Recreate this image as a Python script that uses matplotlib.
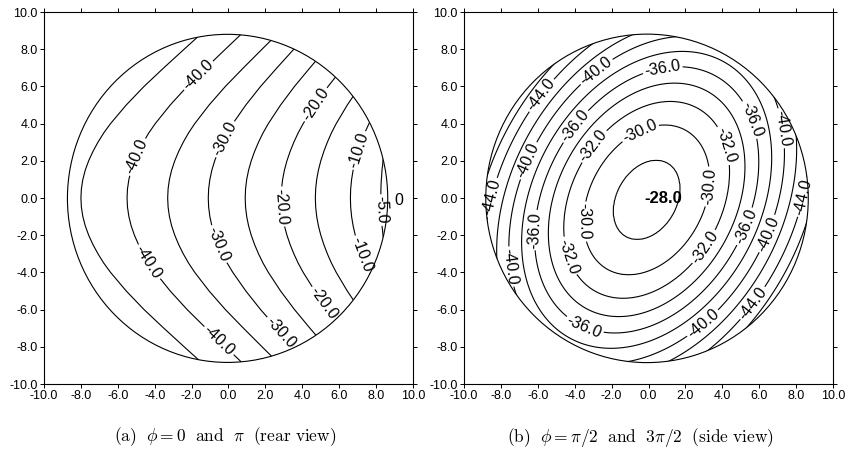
import numpy as np
import matplotlib
matplotlib.use("Agg")
import matplotlib.pyplot as plt
from matplotlib.patches import Ellipse
from matplotlib.ticker import FormatStrFormatter

plt.rcParams['font.family'] = ['Liberation Sans', 'DejaVu Sans']
plt.rcParams['mathtext.fontset'] = 'cm'
plt.rcParams['contour.negative_linestyle'] = 'solid'

# ---------------- panel (a): phi = 0 and pi (rear view) ----------------
# contour levels, their x-position on the y=0 line, and how strongly each bends
levels_a = [-50, -45, -40, -35, -30, -25, -20, -15, -10, -5, 0, 5]
x0_a = [-10.6, -8.0, -5.5, -3.3, -1.1, 0.9, 2.85, 4.7, 6.6, 8.25, 9.2, 10.2]
bend_a = [1.1, 1.05, 1.0, 0.96, 0.87, 0.82, 0.78, 0.74, 0.66, 0.3, 0.2, 0.2]
# x-offset of the -40 contour from its vertex, read at several |y|
profile_y = [0, 0.5, 1, 1.5, 2, 2.5, 3, 3.5, 4, 5, 6, 7, 8, 9, 10]
profile_dx = [0.0, 0.025, 0.1, 0.225, 0.4, 0.62, 0.88, 1.18, 1.53, 2.34, 3.26, 4.28, 5.33, 6.39, 7.4]
drawn_a = [-45, -40, -35, -30, -25, -20, -15, -10, -5, 0]
labeled_a = [-40, -30, -20, -10, -5, 0]
label_pos_a = [(-1.65, 6.61), (-4.98, 2.22), (-4.44, -3.51), (-0.65, -7.81),
               (-0.29, 3.21), (-0.65, -2.53), (2.78, -7.27),
               (4.76, 5.0), (2.69, -0.47), (5.03, -5.75),
               (7.02, 2.58), (7.2, -3.06),
               (8.28, -0.65), (9.18, -0.11)]

# ---------------- panel (b): phi = pi/2 and 3pi/2 (side view) ----------------
levels_b = [-27.3, -28, -30, -32, -34, -36, -38, -40, -42, -44, -46, -48]
semi_major_b = [0.0, 2.28, 4.30, 5.65, 6.70, 7.64, 8.52, 9.39, 10.22, 11.07, 11.83, 12.6]
axis_ratio_b = 1.40
tilt_b_deg = 60.0
center_b = (-0.1, -0.1)
drawn_b = [-48, -46, -44, -42, -40, -38, -36, -34, -32, -30, -28]
labeled_b = [-44, -40, -36, -32, -30]
label_pos_b = [(-5.71, 5.45), (-8.68, 0.07), (8.28, 0.07), (5.66, -5.66),
               (-2.82, 6.79), (-6.79, 2.13), (-7.51, -3.69), (7.2, 3.75), (6.39, -1.9), (2.87, -6.65),
               (0.79, 6.79), (5.48, 4.19), (5.48, -1.63), (-3.36, -6.65), (-6.25, -1.72), (-4.17, 4.02),
               (-2.82, 2.67), (3.95, 2.76), (-4.44, -3.16), (3.14, -2.7),
               (-0.47, 3.57), (3.32, 0.61), (-3.54, -1.27)]
center_label_b = "-28.0"

ticks = [-10.0, -8.0, -6.0, -4.0, -2.0, 0.0, 2.0, 4.0, 6.0, 8.0, 10.0]
captions = [r"$\mathrm{(a)}\ \ \phi=0\ \ \mathrm{and}\ \ \pi\ \ \mathrm{(rear\ view)}$",
            r"$\mathrm{(b)}\ \ \phi=\pi/2\ \ \mathrm{and}\ \ 3\pi/2\ \ \mathrm{(side\ view)}$"]

# ---------------- build fields ----------------
g = np.linspace(-10, 10, 401)
GX, GY = np.meshgrid(g, g)

Za = np.empty_like(GX)
lv_a = np.array(levels_a, float)
for i, yv in enumerate(g):
    off = np.interp(abs(yv), profile_y, profile_dx)
    pos = np.array(x0_a) + np.array(bend_a) * off
    pos = np.maximum.accumulate(pos + np.arange(len(pos)) * 1e-3)
    Za[i] = np.interp(g, pos, lv_a)

t = np.deg2rad(tilt_b_deg)
dx = GX - center_b[0]
dy = GY - center_b[1]
u = dx * np.cos(t) + dy * np.sin(t)
v = -dx * np.sin(t) + dy * np.cos(t)
rho = np.sqrt(u ** 2 + (axis_ratio_b * v) ** 2)
Zb = np.interp(rho, semi_major_b, levels_b)

# ---------------- figure ----------------
fig = plt.figure(figsize=(8.49, 4.61), dpi=100)
axA = fig.add_axes([44 / 849, 1 - 384 / 461, 369 / 849, 372 / 461])
axB = fig.add_axes([464 / 849, 1 - 384 / 461, 369 / 849, 372 / 461])


def style(ax):
    ax.set_xlim(-10, 10)
    ax.set_ylim(-10, 10)
    ax.set_xticks(ticks)
    ax.set_yticks(ticks)
    ax.xaxis.set_major_formatter(FormatStrFormatter('%.1f'))
    ax.yaxis.set_major_formatter(FormatStrFormatter('%.1f'))
    ax.tick_params(direction='out', length=3, width=0.7, labelsize=9, pad=1.5,
                   top=True, right=True, colors='black')
    for s in ax.spines.values():
        s.set_linewidth(0.8)


def draw_panel(ax, Z, drawn, labeled, label_pos, fmt, circ):
    ax.add_patch(circ)
    plain = sorted([lv for lv in drawn if lv not in labeled])
    cs_plain = ax.contour(GX, GY, Z, levels=plain, colors='black',
                          linewidths=0.8, linestyles='solid')
    cs_plain.set_clip_path(circ)
    cs_lab = ax.contour(GX, GY, Z, levels=sorted(labeled), colors='black',
                        linewidths=0.8, linestyles='solid')
    cs_lab.set_clip_path(circ)
    return ax.clabel(cs_lab, manual=label_pos, fmt=fmt, inline=True,
                     inline_spacing=2, fontsize=11.5)


style(axA)
style(axB)

circA = Ellipse((-0.05, -0.02), 2 * 8.68, 2 * 8.82, fill=False, edgecolor='black', lw=0.8)
fmtA = {lv: ('0' if lv == 0 else '%.1f' % lv) for lv in drawn_a}
txA = draw_panel(axA, Za, drawn_a, labeled_a, label_pos_a, fmtA, circA)
for tx in txA:
    if tx.get_text() == '0':
        tx.set_rotation(0)

circB = Ellipse((-0.08, -0.02), 2 * 8.74, 2 * 8.83, fill=False, edgecolor='black', lw=0.8)
fmtB = {lv: '%.1f' % lv for lv in drawn_b}
draw_panel(axB, Zb, drawn_b, labeled_b, label_pos_b, fmtB, circB)
axB.text(0.8, -0.02, center_label_b, ha='center', va='center', fontsize=12, fontweight='bold')

fig.text(225 / 849, 1 - 437 / 461, captions[0], ha='center', va='center', fontsize=12.5)
fig.text(640 / 849, 1 - 437 / 461, captions[1], ha='center', va='center', fontsize=12.5)

fig.savefig('out.png', dpi=100)
